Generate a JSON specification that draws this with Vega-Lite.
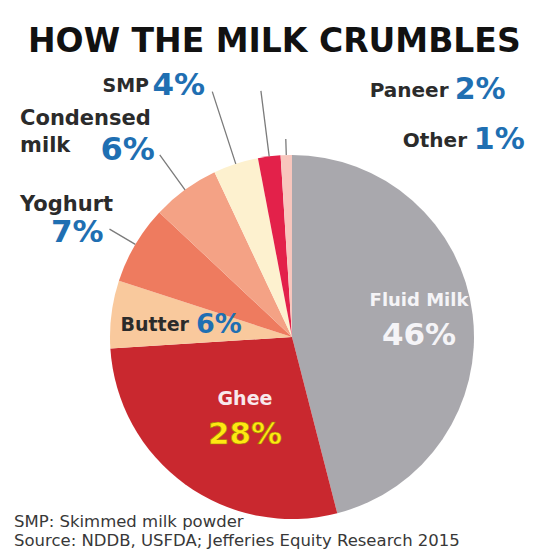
{
  "$schema": "https://vega.github.io/schema/vega-lite/v6.json",
  "padding": {"left": 10, "right": 0, "top": 26, "bottom": 0},
  "background": "#ffffff",
  "title": {"text": "HOW THE MILK CRUMBLES", "anchor": "start", "frame": "group", "dx": 18, "font": "DejaVu Sans", "fontSize": 33, "fontWeight": "bold", "color": "#111111", "offset": 0},
  "config": {"view": {"stroke": null}, "text": {"font": "DejaVu Sans", "fontWeight": "bold", "baseline": "middle"}},
  "vconcat": [
    {
      "width": 545,
      "height": 463,
      "title": {"text": ["SMP: Skimmed milk powder", "Source: NDDB, USFDA; Jefferies Equity Research 2015"], "orient": "bottom", "anchor": "start", "frame": "group", "font": "DejaVu Sans", "fontSize": 16.5, "fontWeight": "normal", "color": "#383838", "lineHeight": 19, "dx": 4, "offset": -8},
      "data": {"values": [
        {"category": "Fluid Milk", "value": 46, "pct": "46%"},
        {"category": "Ghee", "value": 28, "pct": "28%"},
        {"category": "Butter", "value": 6, "pct": "6%"},
        {"category": "Yoghurt", "value": 7, "pct": "7%"},
        {"category": "Condensed milk", "value": 6, "pct": "6%"},
        {"category": "SMP", "value": 4, "pct": "4%"},
        {"category": "Paneer", "value": 2, "pct": "2%"},
        {"category": "Other", "value": 1, "pct": "1%"}
      ]},
      "transform": [{"window": [{"op": "row_number", "as": "idx"}]}],
      "encoding": {
        "theta": {"field": "value", "type": "quantitative", "stack": true},
        "order": {"field": "idx", "type": "quantitative"}
      },
      "layer": [
        {
          "mark": {"type": "arc", "outerRadius": 182, "xOffset": 9.5, "yOffset": 46.5, "clip": true},
          "encoding": {"color": {"field": "category", "type": "nominal", "legend": null,
            "scale": {"domain": ["Fluid Milk", "Ghee", "Butter", "Yoghurt", "Condensed milk", "SMP", "Paneer", "Other"],
                      "range": ["#a9a8ad", "#c9282f", "#f9c99d", "#ee7b5f", "#f4a285", "#fdf1cf", "#e3214a", "#f8c6bd"]}}}
        },
        {"mark": {"type": "arc", "innerRadius": 182, "outerRadius": 212, "padAngle": 1, "filled": false, "stroke": "#7b7b7b", "strokeWidth": 1.3, "xOffset": 9.5, "yOffset": 46.5, "clip": true},
         "encoding": {"strokeOpacity": {"condition": {"test": "datum.category === 'Yoghurt'", "value": 1}, "value": 0}}},
        {"mark": {"type": "arc", "innerRadius": 182, "outerRadius": 225, "padAngle": 1, "filled": false, "stroke": "#7b7b7b", "strokeWidth": 1.3, "xOffset": 9.5, "yOffset": 46.5, "clip": true},
         "encoding": {"strokeOpacity": {"condition": {"test": "datum.category === 'Condensed milk'", "value": 1}, "value": 0}}},
        {"mark": {"type": "arc", "innerRadius": 182, "outerRadius": 258, "padAngle": 1, "filled": false, "stroke": "#7b7b7b", "strokeWidth": 1.3, "xOffset": 9.5, "yOffset": 46.5, "clip": true},
         "encoding": {"strokeOpacity": {"condition": {"test": "datum.category === 'SMP'", "value": 1}, "value": 0}}},
        {"mark": {"type": "arc", "innerRadius": 182, "outerRadius": 248, "padAngle": 1, "filled": false, "stroke": "#7b7b7b", "strokeWidth": 1.3, "xOffset": 9.5, "yOffset": 46.5, "clip": true},
         "encoding": {"strokeOpacity": {"condition": {"test": "datum.category === 'Paneer'", "value": 1}, "value": 0}}},
        {"mark": {"type": "arc", "innerRadius": 182, "outerRadius": 198, "padAngle": 1, "filled": false, "stroke": "#7b7b7b", "strokeWidth": 1.3, "xOffset": 9.5, "yOffset": 46.5, "clip": true},
         "encoding": {"strokeOpacity": {"condition": {"test": "datum.category === 'Other'", "value": 1}, "value": 0}}},

        {"mark": {"type": "text", "radius": 128, "dy": -20, "fontSize": 18, "color": "#f5f4f7", "xOffset": 9.5, "yOffset": 46.5, "clip": true},
         "encoding": {"text": {"condition": {"test": "datum.category === 'Fluid Milk'", "field": "category"}, "value": ""}}},
        {"mark": {"type": "text", "radius": 128, "dy": 15, "fontSize": 31, "color": "#f5f4f7", "xOffset": 9.5, "yOffset": 46.5, "clip": true},
         "encoding": {"text": {"condition": {"test": "datum.category === 'Fluid Milk'", "field": "pct"}, "value": ""}}},

        {"mark": {"type": "text", "radius": 80, "dy": -3, "fontSize": 19, "color": "#f8e9ec", "xOffset": 9.5, "yOffset": 46.5, "clip": true},
         "encoding": {"text": {"condition": {"test": "datum.category === 'Ghee'", "field": "category"}, "value": ""}}},
        {"mark": {"type": "text", "radius": 80, "dy": 33, "fontSize": 31, "color": "#ffe812", "stroke": "#9c7f00", "strokeWidth": 0.6, "xOffset": 9.5, "yOffset": 46.5, "clip": true},
         "encoding": {"text": {"condition": {"test": "datum.category === 'Ghee'", "field": "pct"}, "value": ""}}},

        {"mark": {"type": "text", "radius": 122, "align": "right", "dx": 18, "dy": 3, "fontSize": 19, "color": "#2b2b2b", "xOffset": 9.5, "yOffset": 46.5, "clip": true},
         "encoding": {"text": {"condition": {"test": "datum.category === 'Butter'", "field": "category"}, "value": ""}}},
        {"mark": {"type": "text", "radius": 122, "align": "left", "dx": 25, "dy": 3, "fontSize": 27, "color": "#1f6fb2", "xOffset": 9.5, "yOffset": 46.5, "clip": true},
         "encoding": {"text": {"condition": {"test": "datum.category === 'Butter'", "field": "pct"}, "value": ""}}},

        {"mark": {"type": "text", "radius": 212, "align": "left", "dx": -89.5, "dy": -24, "fontSize": 21, "color": "#2b2b2b", "xOffset": 9.5, "yOffset": 46.5, "clip": true},
         "encoding": {"text": {"condition": {"test": "datum.category === 'Yoghurt'", "field": "category"}, "value": ""}}},
        {"mark": {"type": "text", "radius": 212, "align": "right", "dx": -6, "dy": 4, "fontSize": 31, "color": "#1f6fb2", "xOffset": 9.5, "yOffset": 46.5, "clip": true},
         "encoding": {"text": {"condition": {"test": "datum.category === 'Yoghurt'", "field": "pct"}, "value": ""}}},

        {"mark": {"type": "text", "radius": 225, "align": "left", "dx": -139.7, "dy": -36, "lineBreak": " ", "lineHeight": 27, "fontSize": 21, "color": "#2b2b2b", "xOffset": 9.5, "yOffset": 46.5, "clip": true},
         "encoding": {"text": {"condition": {"test": "datum.category === 'Condensed milk'", "field": "category"}, "value": ""}}},
        {"mark": {"type": "text", "radius": 225, "align": "right", "dx": -5, "dy": -5, "fontSize": 32, "color": "#1f6fb2", "xOffset": 9.5, "yOffset": 46.5, "clip": true},
         "encoding": {"text": {"condition": {"test": "datum.category === 'Condensed milk'", "field": "pct"}, "value": ""}}},

        {"mark": {"type": "text", "radius": 262, "align": "right", "dx": -62, "dy": -2, "fontSize": 19, "color": "#2b2b2b", "xOffset": 9.5, "yOffset": 46.5, "clip": true},
         "encoding": {"text": {"condition": {"test": "datum.category === 'SMP'", "field": "category"}, "value": ""}}},
        {"mark": {"type": "text", "radius": 262, "align": "right", "dx": -6, "dy": -2, "fontSize": 31, "color": "#1f6fb2", "xOffset": 9.5, "yOffset": 46.5, "clip": true},
         "encoding": {"text": {"condition": {"test": "datum.category === 'SMP'", "field": "pct"}, "value": ""}}},

        {"mark": {"type": "text", "radius": 250, "align": "left", "dx": 109, "dy": 2, "fontSize": 20, "color": "#2b2b2b", "xOffset": 9.5, "yOffset": 46.5, "clip": true},
         "encoding": {"text": {"condition": {"test": "datum.category === 'Paneer'", "field": "category"}, "value": ""}}},
        {"mark": {"type": "text", "radius": 250, "align": "left", "dx": 194, "dy": 1, "fontSize": 30, "color": "#1f6fb2", "xOffset": 9.5, "yOffset": 46.5, "clip": true},
         "encoding": {"text": {"condition": {"test": "datum.category === 'Paneer'", "field": "pct"}, "value": ""}}},

        {"mark": {"type": "text", "radius": 198, "align": "left", "dx": 117, "dy": 2, "fontSize": 20, "color": "#2b2b2b", "xOffset": 9.5, "yOffset": 46.5, "clip": true},
         "encoding": {"text": {"condition": {"test": "datum.category === 'Other'", "field": "category"}, "value": ""}}},
        {"mark": {"type": "text", "radius": 198, "align": "left", "dx": 188, "dy": 1, "fontSize": 30, "color": "#1f6fb2", "xOffset": 9.5, "yOffset": 46.5, "clip": true},
         "encoding": {"text": {"condition": {"test": "datum.category === 'Other'", "field": "pct"}, "value": ""}}}
      ]
    }
  ]
}
